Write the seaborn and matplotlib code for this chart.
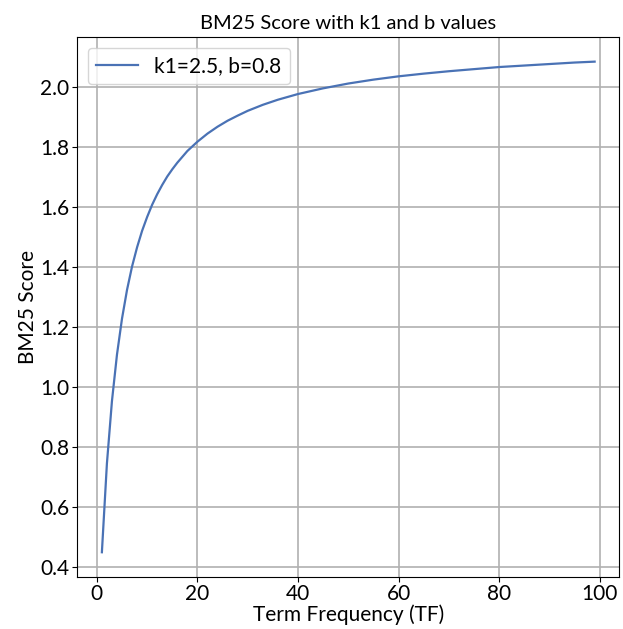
import pandas as pd
import seaborn as sns
import matplotlib.pyplot as plt

# values
tf_values = [1, 2, 3, 4, 5, 6, 7, 8, 9, 10, 11, 12, 13, 14, 15, 16, 18, 20,
             22, 24, 26, 28, 30, 33, 36, 40, 45, 50, 55, 60, 65, 70, 75, 80,
             85, 90, 95, 99]
bm25_scores = [0.450, 0.746, 0.954, 1.109, 1.229, 1.325, 1.403, 1.467, 1.522,
               1.568, 1.609, 1.644, 1.675, 1.703, 1.727, 1.749, 1.788, 1.819,
               1.846, 1.869, 1.889, 1.906, 1.922, 1.942, 1.959, 1.978, 1.997,
               2.013, 2.026, 2.037, 2.046, 2.054, 2.061, 2.068, 2.073, 2.078,
               2.083, 2.086]
series_label = 'k1=2.5, b=0.8'


def main() -> None:
    df = pd.DataFrame({'TF': tf_values, 'Score': bm25_scores})
    plt.rcParams['font.family'] = ['Lato', 'DejaVu Sans']
    fig, ax = plt.subplots(figsize=(6.23, 6.29), dpi=100)
    sns.lineplot(data=df, x='TF', y='Score', color='#4a72b5', linewidth=1.6,
                 label=series_label, ax=ax)
    ax.set_title('BM25 Score with k1 and b values', fontsize=14.5)
    ax.set_xlabel('Term Frequency (TF)', fontsize=15, labelpad=0)
    ax.set_ylabel('BM25 Score', fontsize=15, labelpad=2)
    ax.tick_params(labelsize=15, pad=2)
    ax.grid(True, color='#b0b0b0', linewidth=1.2)
    ax.legend(loc='upper left', fontsize=15)
    plt.subplots_adjust(left=0.124, right=0.994, top=0.941, bottom=0.083)
    plt.savefig('out.png')


if __name__ == '__main__':
    main()
